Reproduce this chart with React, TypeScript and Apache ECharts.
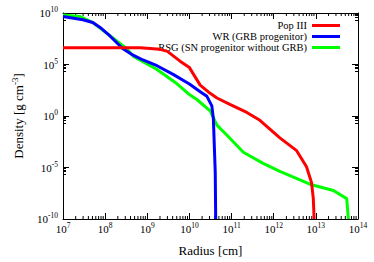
import React, { useEffect, useRef } from "react";
import * as echarts from "echarts";

const popIIIRadius = [1e7, 6.8e8, 2.0e9, 3.0e9, 6.0e9, 1.0e10, 1.8e10, 3.1e10, 4.5e10, 9.1e10, 2.3e11, 4.7e11, 1.4e12, 3.5e12, 6.0e12, 7.9e12, 8.7e12, 9.1e12];
const popIIIDensity = [4.2e6, 4.2e6, 2.95e6, 1.9e6, 2.1e5, 5.0e4, 1.0e3, 1.6e2, 56, 13.5, 2.2, 0.38, 7.6e-3, 4.3e-4, 1.2e-5, 3.4e-7, 9.5e-9, 1e-10];

const wrRadius = [1e7, 2.95e7, 5.1e7, 7.6e7, 1.3e8, 2.6e8, 4.6e8, 7.9e8, 1.7e9, 4.1e9, 1.0e10, 1.8e10, 2.6e10, 3.4e10, 3.7e10, 4.1e10, 4.2e10];
const wrDensity = [4.6e9, 2.2e9, 1.2e9, 4.0e8, 5.9e7, 3.6e6, 8.1e5, 2.75e5, 7.6e4, 1.1e4, 1.3e3, 2.3e2, 81, 9.5, 0.55, 3.0e-6, 1e-10];

const rsgRadius = [1e7, 2.5e7, 5.2e7, 1.3e8, 3.2e8, 4.7e8, 1.66e9, 5.0e9, 1.0e10, 1.5e10, 3.1e10, 4.5e10, 7.6e10, 1.9e11, 5.6e11, 1.4e12, 7.2e12, 2.6e13, 5.4e13, 5.9e13];
const rsgDensity = [6.5e9, 4.6e9, 1.1e9, 6.3e7, 3.6e6, 6.2e5, 3.5e4, 1.4e3, 1.2e2, 40, 3.2, 0.13, 1.5e-2, 3.0e-4, 2.5e-5, 4.2e-6, 2.4e-7, 5.8e-8, 9.5e-9, 1e-10];

const seriesNames = ["Pop III", "WR (GRB progenitor)", "RSG (SN progenitor without GRB)"];
const seriesColors = ["#ff0000", "#0000ff", "#00ff00"];

const xMin = 1e7;
const xMax = 1e14;
const yMin = 1e-10;
const yMax = 1e10;
const minorMultipliers = [2, 3, 4, 5, 6, 7, 8, 9];

const FONT = "'Liberation Serif', 'DejaVu Serif', serif";

const zip = (xs: number[], ys: number[]) => xs.map((x, i) => [x, ys[i]]);

const supLabel = (v: number) => {
  const e = Math.round(Math.log10(v));
  return `{b|10}{s|${e}}`;
};

const richTick = {
  b: { fontSize: 11, fontFamily: FONT, color: "#000", lineHeight: 11 },
  s: { fontSize: 7.5, fontFamily: FONT, color: "#000", lineHeight: 8, padding: [0, 0, 7, 0] },
};

export default function App() {
  const ref = useRef<HTMLDivElement>(null);
  useEffect(() => {
    if (!ref.current) return;
    const chart = echarts.init(ref.current, null, { renderer: "svg" });
    const axisLine = { show: true, lineStyle: { color: "#000", width: 1 } };
    const option: any = {
      animation: false,
      backgroundColor: "#fff",
      grid: { left: 63, right: 16, top: 13, bottom: 34 },
      legend: {
        data: seriesNames,
        orient: "vertical",
        right: 29,
        top: 15,
        align: "right",
        icon: "rect",
        itemWidth: 28,
        itemHeight: 3,
        itemGap: 0,
        textStyle: { fontSize: 10.5, fontFamily: FONT, color: "#000", lineHeight: 10.6 },
      },
      xAxis: [
        {
          type: "log",
          logBase: 10,
          min: xMin,
          max: xMax,
          splitNumber: 7,
          position: "bottom",
          axisLine,
          axisTick: { show: true, inside: true, length: 6, lineStyle: { color: "#000" } },
          splitLine: { show: false },
          axisLabel: { formatter: supLabel, rich: richTick, margin: 4 },
          name: "Radius [cm]",
          nameLocation: "middle",
          nameGap: 25,
          nameTextStyle: { fontSize: 13, fontFamily: FONT, color: "#000" },
        },
        {
          type: "log",
          logBase: 10,
          min: xMin,
          max: xMax,
          splitNumber: 7,
          position: "top",
          axisLine,
          axisTick: { show: true, inside: true, length: 6, lineStyle: { color: "#000" } },
          splitLine: { show: false },
          axisLabel: { show: false },
        },
      ],
      yAxis: [
        {
          type: "log",
          logBase: 10,
          min: yMin,
          max: yMax,
          interval: 5,
          position: "left",
          axisLine,
          axisTick: { show: true, inside: true, length: 6, lineStyle: { color: "#000" } },
          minorTick: { show: true, splitNumber: 5, length: 3, lineStyle: { color: "#000" } },
          splitLine: { show: false },
          axisLabel: { formatter: supLabel, rich: richTick, margin: 5 },
          name: "Density [g cm{s|-3}]",
          nameLocation: "middle",
          nameGap: 36,
          nameTextStyle: {
            fontSize: 13,
            fontFamily: FONT,
            color: "#000",
            rich: {
              s: { fontSize: 9, fontFamily: FONT, color: "#000", lineHeight: 9, padding: [0, 0, 7, 0] },
            },
          },
        },
        {
          type: "log",
          logBase: 10,
          min: yMin,
          max: yMax,
          interval: 5,
          position: "right",
          axisLine,
          axisTick: { show: true, inside: true, length: 6, lineStyle: { color: "#000" } },
          minorTick: { show: true, splitNumber: 5, length: 3, lineStyle: { color: "#000" } },
          splitLine: { show: false },
          axisLabel: { show: false },
        },
      ],
      series: [
        {
          type: "custom",
          silent: true,
          xAxisIndex: 0,
          yAxisIndex: 0,
          data: [[xMin, yMin]],
          renderItem: (params: any, api: any) => {
            const children: any[] = [];
            for (let k = 7; k < 14; k++) {
              for (const m of minorMultipliers) {
                const v = m * Math.pow(10, k);
                const b = api.coord([v, yMin]);
                const t = api.coord([v, yMax]);
                children.push({
                  type: "line",
                  shape: { x1: b[0], y1: b[1], x2: b[0], y2: b[1] - 3 },
                  style: { stroke: "#000", lineWidth: 1 },
                });
                children.push({
                  type: "line",
                  shape: { x1: t[0], y1: t[1], x2: t[0], y2: t[1] + 3 },
                  style: { stroke: "#000", lineWidth: 1 },
                });
              }
            }
            return { type: "group", children };
          },
          z: 1,
        },
        ...[zip(popIIIRadius, popIIIDensity), zip(wrRadius, wrDensity), zip(rsgRadius, rsgDensity)].map((d, i) => ({
          name: seriesNames[i],
          type: "line",
          data: d,
          showSymbol: false,
          symbol: "none",
          lineStyle: { color: seriesColors[i], width: 3 },
          itemStyle: { color: seriesColors[i] },
          z: 3 + (2 - i),
          clip: true,
        })),
      ],
    };
    chart.setOption(option);
    return () => chart.dispose();
  }, []);
  return <div ref={ref} style={{ position: "fixed", left: 0, top: 0, width: 374, height: 262 }} />;
}
